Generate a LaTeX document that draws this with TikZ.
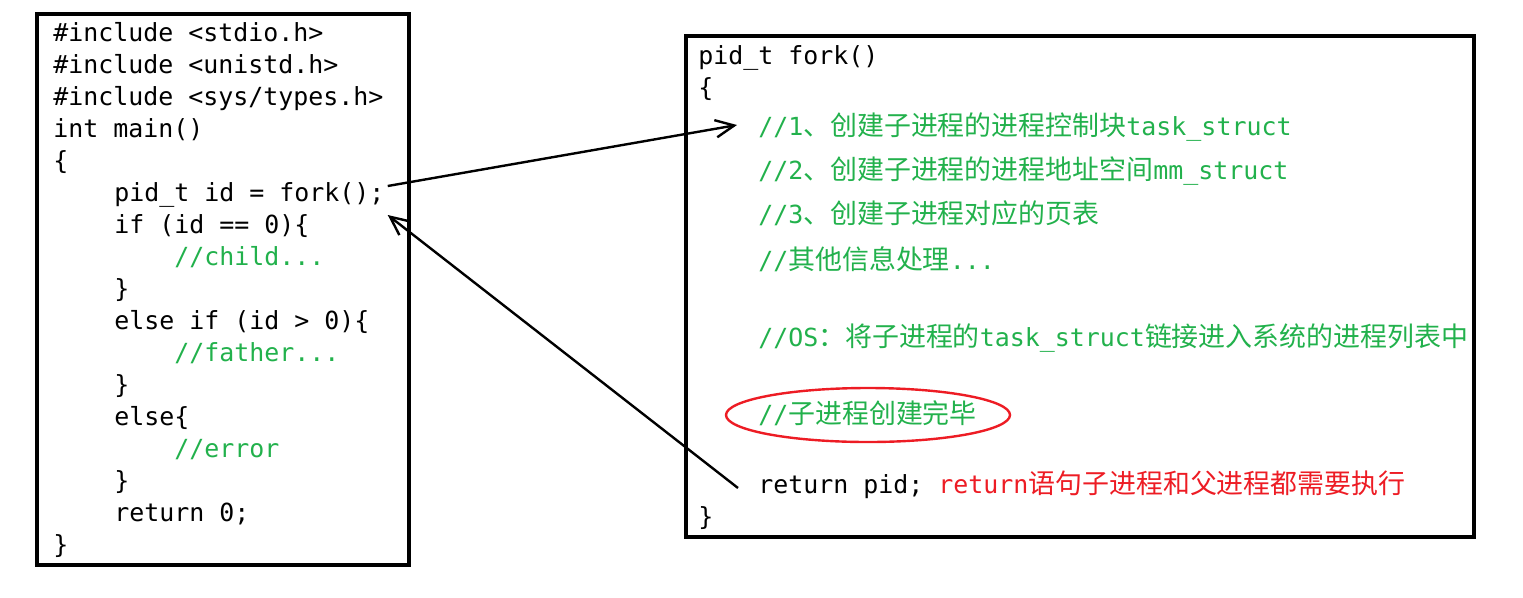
\documentclass[tikz,border=0pt]{standalone}
\usepackage{fontspec}
\newfontfamily\codefont{DejaVu Sans Mono}
\newfontfamily\cjk{Noto Sans CJK SC}[Scale=1.08]
\newcommand{\zh}[1]{{\cjk #1}}
\definecolor{cmtgreen}{RGB}{34,177,76}
\definecolor{markred}{RGB}{237,28,36}
\usetikzlibrary{positioning,calc,arrows.meta}

\begin{document}
\begin{tikzpicture}[x=0.75pt, y=-0.75pt,
    code/.style={anchor=base west, inner sep=0pt, yshift=-1.5pt, font=\codefont\fontsize{18.7}{22}\selectfont},
    cmt/.style={code, text=cmtgreen},
    box/.style={draw, line width=2.3pt},
    arr/.style={-{Straight Barb[length=14pt,width=13pt]}, line width=1.8pt}]
    \useasboundingbox (0,0) rectangle (1523,597);

    % caller
    \draw[box] (37,14) rectangle (409,565);
    \node[code] (inc1) at (53,39) {\#include <stdio.h>};
    \node[code] (inc2) at (53,71) {\#include <unistd.h>};
    \node[code] (inc3) at (53,103) {\#include <sys/types.h>};
    \node[code] (mainsig) at (53,135) {int main()};
    \node[code] (mainopen) at (53,167) {\{};
    \node[code] (forkcall) at (114,199) {pid\_t id = fork();};
    \node[code] (ifchild) at (114,231) {if (id == 0)\{};
    \node[cmt] (child) at (174,263) {//child...};
    \node[code] (close1) at (114,295) {\}};
    \node[code] (iffather) at (114,327) {else if (id > 0)\{};
    \node[cmt] (father) at (174,359) {//father...};
    \node[code] (close2) at (114,391) {\}};
    \node[code] (elseerr) at (114,423) {else\{};
    \node[cmt] (err) at (174,455) {//error};
    \node[code] (close3) at (114,487) {\}};
    \node[code] (ret0) at (114,519) {return 0;};
    \node[code] (mainclose) at (53,551) {\}};

    % fork()
    \draw[box] (686,36) rectangle (1474,537);
    \node[code] (forksig) at (698,62) {pid\_t fork()};
    \node[code] (forkopen) at (698,94) {\{};
    \node[cmt] (step1) at (758,133) {//1\zh{、创建子进程的进程控制块}task\_struct};
    \node[cmt] (step2) at (758,177) {//2\zh{、创建子进程的进程地址空间}mm\_struct};
    \node[cmt] (step3) at (758,221) {//3\zh{、创建子进程对应的页表}};
    \node[cmt] (other) at (758,267) {//\zh{其他信息处理}...};
    \node[cmt] (oslink) at (758,344) {//OS\zh{：将子进程的}task\_struct\zh{链接进入系统的进程列表中}};
    \node[cmt] (done) at (758,421) {//\zh{子进程创建完毕}};
    \node[code] (retpid) at (758,491) {return pid; \textcolor{markred}{return\zh{语句子进程和父进程都需要执行}}};
    \node[code] (forkclose) at (698,523) {\}};
    \draw[markred, line width=1.8pt] (868,415) ellipse [x radius=142, y radius=27];

    \draw[arr] ([shift={(3,-15)}]forkcall.base east) -- ([shift={(-21,-10)}]step1.base west);
    \draw[arr] ([shift={(-20,-5)}]retpid.base west) -- ([shift={(3,14)}]forkcall.base east);
\end{tikzpicture}
\end{document}
